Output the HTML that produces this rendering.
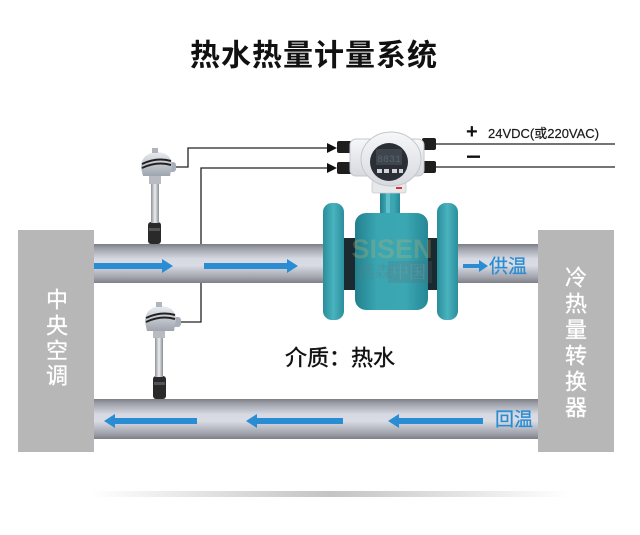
<!DOCTYPE html>
<html><head><meta charset="utf-8">
<style>
html,body{margin:0;padding:0;background:#fff;}
svg{display:block;}
</style></head>
<body>
<svg width="640" height="535" viewBox="0 0 640 535" xmlns="http://www.w3.org/2000/svg">
<defs>
  <linearGradient id="pipe" x1="0" y1="0" x2="0" y2="1">
    <stop offset="0" stop-color="#7c7e86"/>
    <stop offset="0.1" stop-color="#9a9da5"/>
    <stop offset="0.38" stop-color="#d6d9e1"/>
    <stop offset="0.55" stop-color="#d9dce4"/>
    <stop offset="0.85" stop-color="#a2a5ad"/>
    <stop offset="1" stop-color="#7e8088"/>
  </linearGradient>
  <linearGradient id="teal" x1="0" y1="0" x2="1" y2="0">
    <stop offset="0" stop-color="#23808e"/>
    <stop offset="0.3" stop-color="#39a6b2"/>
    <stop offset="0.7" stop-color="#3aa7b3"/>
    <stop offset="1" stop-color="#268796"/>
  </linearGradient>
  <linearGradient id="flange" x1="0" y1="0" x2="1" y2="0">
    <stop offset="0" stop-color="#2a8d9b"/>
    <stop offset="0.5" stop-color="#49b3be"/>
    <stop offset="1" stop-color="#2b8e9c"/>
  </linearGradient>
  <linearGradient id="shadow" x1="0" y1="0" x2="1" y2="0">
    <stop offset="0" stop-color="#ffffff"/>
    <stop offset="0.5" stop-color="#c4c4c4"/>
    <stop offset="1" stop-color="#ffffff"/>
  </linearGradient>
  <linearGradient id="house" x1="0" y1="0" x2="0" y2="1">
    <stop offset="0" stop-color="#f6f7f9"/>
    <stop offset="1" stop-color="#d6d9de"/>
  </linearGradient>
  <linearGradient id="stem" x1="0" y1="0" x2="1" y2="0">
    <stop offset="0" stop-color="#8e9196"/>
    <stop offset="0.5" stop-color="#eceef0"/>
    <stop offset="1" stop-color="#8a8d92"/>
  </linearGradient>
  <linearGradient id="shead" x1="0" y1="0" x2="0" y2="1">
    <stop offset="0" stop-color="#e9ecf0"/>
    <stop offset="1" stop-color="#9ea4ad"/>
  </linearGradient>
</defs>

<!-- Title -->
<text x="314" y="56" font-family="'Liberation Sans','Noto Sans CJK SC',sans-serif" font-size="30" font-weight="bold" fill="#111" text-anchor="middle" dominant-baseline="central" letter-spacing="1">热水热量计量系统</text>

<!-- Wires (behind pipes) -->
<g stroke="#222" stroke-width="1.3" fill="none">
  <polyline points="176,167 188,167 188,148 328,148"/>
  <polyline points="181,322 201,322 201,168 328,168"/>
  <line x1="434" y1="144" x2="615" y2="144"/>
  <line x1="434" y1="167" x2="615" y2="167"/>
</g>
<polygon points="327,143 337,148 327,153" fill="#111"/>
<polygon points="327,163 337,168 327,173" fill="#111"/>

<!-- Power text -->
<text x="466" y="138" font-family="'Liberation Sans',sans-serif" font-size="20" font-weight="bold" fill="#111">+</text>
<rect x="467" y="155.5" width="13" height="2.4" fill="#111"/>
<text x="488" y="138" font-family="'Liberation Sans','Noto Sans CJK SC',sans-serif" font-size="13" fill="#1a1a1a" stroke="#1a1a1a" stroke-width="0.2">24VDC(或220VAC)</text>

<!-- Pipes -->
<rect x="94" y="244" width="444" height="39" fill="url(#pipe)"/>
<rect x="94" y="399" width="444" height="40" fill="url(#pipe)"/>

<!-- Side boxes -->
<rect x="18" y="230" width="76" height="222" fill="#b7b7b7"/>
<rect x="538" y="230" width="76" height="222" fill="#b7b7b7"/>
<g font-family="'Liberation Sans','Noto Sans CJK SC',sans-serif" font-size="22" fill="#ffffff" stroke="#ffffff" stroke-width="0.3" text-anchor="middle" dominant-baseline="central">
  <text x="57" y="300">中</text>
  <text x="57" y="326">央</text>
  <text x="57" y="351">空</text>
  <text x="57" y="376">调</text>
  <text x="576" y="278">冷</text>
  <text x="576" y="304">热</text>
  <text x="576" y="330">量</text>
  <text x="576" y="356">转</text>
  <text x="576" y="382">换</text>
  <text x="576" y="408">器</text>
</g>

<!-- Flow meter tube -->
<rect x="340" y="238" width="100" height="52" fill="#1b2a31"/>
<rect x="323" y="203" width="21" height="117" rx="9" fill="url(#flange)"/>
<rect x="437" y="203" width="21" height="117" rx="9" fill="url(#flange)"/>
<rect x="380" y="190" width="20" height="26" fill="url(#teal)"/>
<rect x="386" y="192" width="4" height="22" fill="#7fd0d8" opacity="0.6"/>
<rect x="355" y="213" width="73" height="97" rx="11" fill="url(#teal)"/>
<!-- watermark -->
<text x="392" y="258" font-family="'Liberation Sans',sans-serif" font-size="27" font-weight="bold" fill="#c9b46a" opacity="0.28" text-anchor="middle">SISEN</text>
<text x="358" y="278" font-family="'Liberation Sans','Noto Sans CJK SC',sans-serif" font-size="17" fill="#6a7a7c" opacity="0.3">西森</text>
<rect x="388" y="261" width="44" height="22" fill="#5e6b70" opacity="0.22"/>
<text x="392" y="278" font-family="'Liberation Serif','Noto Serif CJK SC',serif" font-size="17" fill="#8c9a9e" opacity="0.4">中国</text>

<!-- Transmitter -->
<rect x="337" y="141" width="15" height="12" rx="2" fill="#1e1e1e"/>
<rect x="337" y="162" width="15" height="12" rx="2" fill="#1e1e1e"/>
<rect x="422" y="138" width="14" height="12" rx="2" fill="#1e1e1e"/>
<rect x="422" y="161" width="14" height="12" rx="2" fill="#1e1e1e"/>
<rect x="350" y="139" width="74" height="37" rx="6" fill="url(#house)" stroke="#c3c7cc" stroke-width="1"/>
<rect x="372" y="181" width="34" height="12" rx="2" fill="#e6e8ea" stroke="#c8cbcf" stroke-width="0.8"/>
<rect x="396" y="187" width="6" height="2" fill="#e23030"/>
<ellipse cx="391" cy="159" rx="30" ry="27" fill="url(#house)" stroke="#c3c7cc" stroke-width="1"/>
<circle cx="389" cy="162" r="19" fill="#2b2e34"/>
<rect x="376" y="149" width="26" height="16" rx="1" fill="#3e454d"/>
<text x="389" y="162" font-family="'Liberation Mono',monospace" font-size="10" fill="#59626b" text-anchor="middle">8831</text>
<g fill="#d0d3d7">
  <rect x="377" y="169" width="5" height="4"/>
  <rect x="384" y="169" width="5" height="4"/>
  <rect x="392" y="169" width="5" height="4"/>
  <rect x="399" y="169" width="4" height="4"/>
</g>

<!-- Upper sensor -->
<rect x="148" y="222" width="13" height="22" rx="3" fill="#2a2a2a"/>
<rect x="149" y="228" width="11" height="3" fill="#555"/>
<rect x="151" y="182" width="8" height="41" fill="url(#stem)"/>
<rect x="149" y="175" width="12" height="9" fill="#b8bcc2"/>
<rect x="166" y="162" width="10" height="10" rx="3" fill="#a9afb8"/>
<path d="M141,168 Q141,153 157,152 Q172,153 172,166 L170,176 L143,176 Z" fill="url(#shead)"/>
<rect x="152" y="148" width="6" height="5" fill="#b0b5bc"/>
<path d="M142,164 Q157,157 171,161" stroke="#222" stroke-width="2" fill="none"/>
<path d="M142,168 Q157,161 171,165" stroke="#222" stroke-width="2" fill="none"/>

<!-- Lower sensor -->
<rect x="153" y="376" width="13" height="23" rx="3" fill="#2a2a2a"/>
<rect x="154" y="382" width="11" height="3" fill="#555"/>
<rect x="155" y="336" width="8" height="41" fill="url(#stem)"/>
<rect x="153" y="329" width="12" height="9" fill="#b8bcc2"/>
<rect x="171" y="317" width="10" height="10" rx="3" fill="#a9afb8"/>
<path d="M145,322 Q145,307 161,306 Q176,307 176,320 L174,331 L147,331 Z" fill="url(#shead)"/>
<rect x="156" y="302" width="6" height="5" fill="#b0b5bc"/>
<path d="M146,318 Q161,311 175,315" stroke="#222" stroke-width="2" fill="none"/>
<path d="M146,322 Q161,315 175,319" stroke="#222" stroke-width="2" fill="none"/>

<!-- Flow arrows upper -->
<g fill="#2a8dd3">
  <rect x="94" y="263" width="70" height="6"/>
  <polygon points="162,259 173,266 162,273"/>
  <rect x="204" y="263" width="85" height="6"/>
  <polygon points="287,259 298,266 287,273"/>
  <rect x="463" y="264" width="17" height="4"/>
  <polygon points="479,260 488,266 479,272"/>
  <!-- lower (left pointing) -->
  <rect x="112" y="418" width="85" height="6"/>
  <polygon points="115,414 104,421 115,428"/>
  <rect x="255" y="418" width="88" height="6"/>
  <polygon points="257,414 246,421 257,428"/>
  <rect x="397" y="418" width="86" height="6"/>
  <polygon points="399,414 388,421 399,428"/>
</g>
<g font-family="'Liberation Sans','Noto Sans CJK SC',sans-serif" font-size="19" fill="#2a8dd3" stroke="#2a8dd3" stroke-width="0.3" dominant-baseline="central">
  <text x="489" y="267">供温</text>
  <text x="495" y="420">回温</text>
</g>

<!-- Medium label -->
<text x="285" y="358" font-family="'Liberation Sans','Noto Sans CJK SC',sans-serif" font-size="22" fill="#111" stroke="#111" stroke-width="0.4" dominant-baseline="central">介质：热水</text>

<!-- bottom shadow -->
<rect x="90" y="491" width="480" height="6" fill="url(#shadow)"/>
</svg>
</body></html>
